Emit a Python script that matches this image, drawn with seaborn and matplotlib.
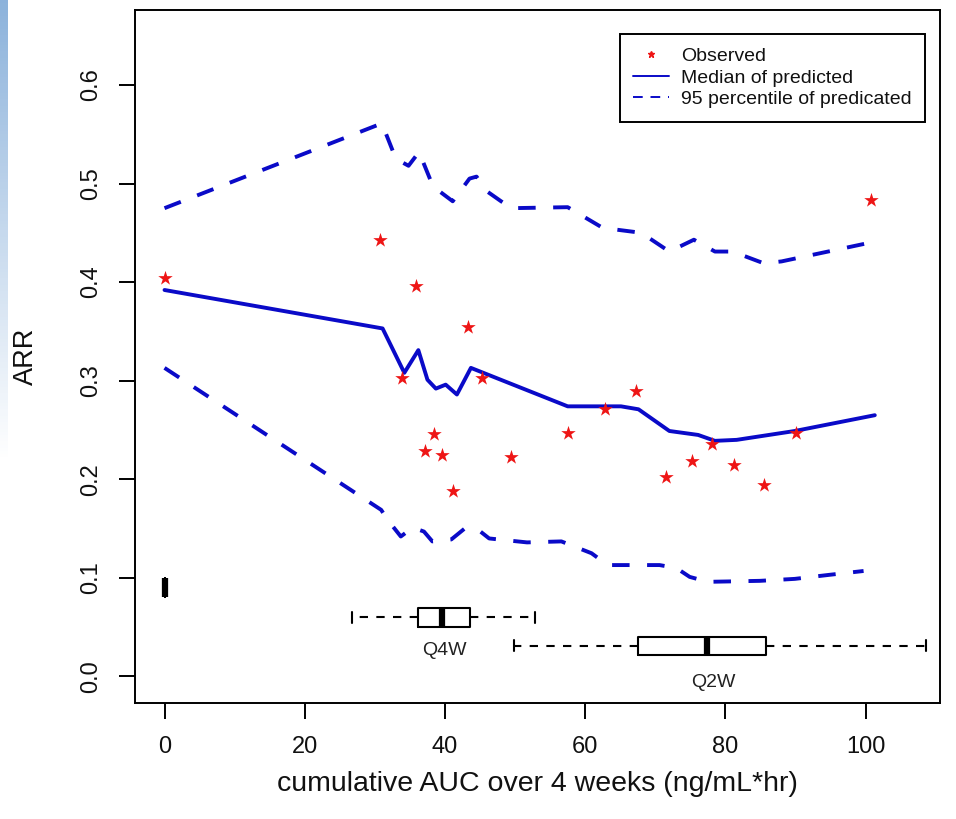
import numpy as np
import pandas as pd
import matplotlib
matplotlib.use("Agg")
import matplotlib.pyplot as plt
from matplotlib.lines import Line2D
import seaborn as sns

# Observed annualised relapse rate by exposure
obs_auc = [0.0, 30.8, 35.9, 33.9, 43.3, 45.3, 38.4, 37.1, 39.6, 41.1, 49.4,
           57.6, 62.8, 67.3, 71.5, 75.2, 78.1, 81.2, 85.5, 90.0, 100.7]
obs_arr = [0.404, 0.443, 0.396, 0.303, 0.354, 0.303, 0.246, 0.229, 0.225, 0.188, 0.223,
           0.247, 0.271, 0.290, 0.202, 0.219, 0.236, 0.215, 0.194, 0.247, 0.483]

# Median of simulated ARR
med_auc = [0.0, 31.1, 34.2, 36.2, 37.5, 38.7, 40.1, 41.7, 43.7, 57.5, 65.1, 67.6,
           72.0, 76.1, 78.5, 81.6, 89.9, 101.3]
med_arr = [0.392, 0.353, 0.308, 0.331, 0.301, 0.292, 0.296, 0.286, 0.313, 0.274, 0.274, 0.271,
           0.249, 0.245, 0.239, 0.240, 0.249, 0.265]

# Upper percentile of simulated ARR
upr_auc = [0.0, 31.0, 33.0, 34.8, 36.3, 38.3, 41.1, 43.5, 44.5, 46.0, 48.0, 49.5,
           57.5, 62.5, 68.0, 72.0, 75.5, 78.5, 81.0, 85.5, 88.0, 100.6]
upr_arr = [0.475, 0.561, 0.525, 0.518, 0.532, 0.497, 0.482, 0.505, 0.507, 0.492, 0.482, 0.475,
           0.476, 0.455, 0.450, 0.431, 0.443, 0.431, 0.431, 0.419, 0.421, 0.440]

# Lower percentile of simulated ARR
lwr_auc = [0.0, 30.9, 31.8, 33.7, 35.4, 37.0, 38.2, 40.9, 42.8, 44.7, 46.3, 51.7,
           56.6, 60.9, 63.2, 70.6, 73.0, 74.9, 77.5, 84.9, 89.9, 94.7, 99.7]
lwr_arr = [0.313, 0.169, 0.159, 0.142, 0.151, 0.147, 0.137, 0.139, 0.150, 0.149, 0.140, 0.136,
           0.137, 0.125, 0.113, 0.113, 0.110, 0.101, 0.096, 0.097, 0.099, 0.103, 0.107]

# Exposure distribution per dosing regimen (five-number summaries)
regimens = ["Placebo", "Q4W", "Q2W"]
box_pos = [0.090, 0.060, 0.031]
box_whislo = [0.0, 26.7, 49.8]
box_q1 = [0.0, 36.2, 67.5]
box_med = [0.0, 39.6, 77.3]
box_q3 = [0.0, 43.5, 85.8]
box_whishi = [0.0, 52.9, 108.6]
box_text = [None, "Q4W", "Q2W"]
box_text_xy = [None, (39.9, 0.0265), (78.2, -0.0065)]

sns.set_style("ticks")
plt.rcParams["font.family"] = ["Liberation Sans", "DejaVu Sans"]

BLUE = "#0A0AC8"
RED = "#EE1515"

fig = plt.figure(figsize=(9.56, 8.19), dpi=100)
ax = fig.add_axes([135 / 956, 1 - 703 / 819, 805 / 956, 693 / 819])

# soft blue strip along the left edge
strip = fig.add_axes([0, 0, 8 / 956, 1])
grad = np.linspace(0, 1, 256)
fade = np.clip(1 - grad / 0.56, 0, 1)[:, None]
top = np.array([0.55, 0.70, 0.86])
img = np.ones((256, 1, 3)) * (1 - fade[..., None]) + top * fade[..., None]
strip.imshow(img, aspect="auto", extent=[0, 1, 0, 1], origin="upper")
strip.set_axis_off()

dash_thick = (0, (4.5, 4.5))
lw_main = 2.8

sns.lineplot(data=pd.DataFrame({"auc": upr_auc, "arr": upr_arr}), x="auc", y="arr",
             ax=ax, color=BLUE, lw=lw_main, linestyle=dash_thick, estimator=None, sort=False)
sns.lineplot(data=pd.DataFrame({"auc": lwr_auc, "arr": lwr_arr}), x="auc", y="arr",
             ax=ax, color=BLUE, lw=lw_main, linestyle=dash_thick, estimator=None, sort=False)
sns.lineplot(data=pd.DataFrame({"auc": med_auc, "arr": med_arr}), x="auc", y="arr",
             ax=ax, color=BLUE, lw=lw_main, estimator=None, sort=False)
sns.scatterplot(data=pd.DataFrame({"auc": obs_auc, "arr": obs_arr}), x="auc", y="arr",
                ax=ax, marker="*", s=120, color=RED, linewidth=0, zorder=5)

# horizontal box plots of exposure
stats = [dict(whislo=lo, q1=q1, med=md, q3=q3, whishi=hi, fliers=[], label=lab)
         for lab, lo, q1, md, q3, hi in zip(regimens, box_whislo, box_q1, box_med, box_q3, box_whishi)]
ax.bxp(stats, positions=box_pos, widths=0.019, orientation="horizontal", showfliers=False,
       manage_ticks=False,
       boxprops=dict(color="black", lw=1.5),
       medianprops=dict(color="black", lw=4.5, solid_capstyle="butt"),
       whiskerprops=dict(color="black", lw=1.5, linestyle=(0, (4, 4))),
       capprops=dict(color="black", lw=1.5), capwidths=0.011)
for t, xy in zip(box_text, box_text_xy):
    if t:
        ax.text(xy[0], xy[1], t, ha="center", va="center", fontsize=14, color="#222222")

ax.set_xlim(-4.21, 110.6)
ax.set_ylim(-0.0269, 0.676)
ax.set_xticks([0, 20, 40, 60, 80, 100])
ax.set_yticks([0.0, 0.1, 0.2, 0.3, 0.4, 0.5, 0.6])
ax.set_yticklabels(["0.0", "0.1", "0.2", "0.3", "0.4", "0.5", "0.6"])
ax.tick_params(axis="both", length=11.5, width=1.4, color="black", labelsize=17,
               labelcolor="#111111")
ax.tick_params(axis="x", pad=12.6)
ax.tick_params(axis="y", pad=12.5, labelrotation=90)
for lab in ax.get_yticklabels():
    lab.set_va("center")
for sp in ax.spines.values():
    sp.set_visible(True)
    sp.set_color("black")
    sp.set_linewidth(1.4)

ax.set_xlabel("cumulative AUC over 4 weeks (ng/mL*hr)", fontsize=20.5, color="#111111")
ax.set_ylabel("ARR", fontsize=19.5, color="#111111")
ax.xaxis.label.set_va("center")
ax.xaxis.set_label_coords(0.5, (703 - 784) / 693)
ax.yaxis.label.set_va("center")
ax.yaxis.set_label_coords((26 - 135) / 805, 0.5)

handles = [
    Line2D([], [], marker="*", ms=5, color=RED, linestyle="none"),
    Line2D([], [], color=BLUE, lw=1.4),
    Line2D([], [], color=BLUE, lw=1.4, linestyle=(0, (5, 4))),
]
labels = ["Observed", "Median of predicted", "95 percentile of predicated"]
leg = ax.legend(handles, labels, loc="upper right", bbox_to_anchor=(0.981, 0.965),
                borderaxespad=0, fontsize=14, frameon=True, fancybox=False,
                edgecolor="black", framealpha=1, handlelength=1.85, handletextpad=0.6,
                labelspacing=0.2, borderpad=0.69)
leg.get_frame().set_linewidth(1.4)
for t in leg.get_texts():
    t.set_color("#111111")

fig.savefig("out.png", dpi=100)
